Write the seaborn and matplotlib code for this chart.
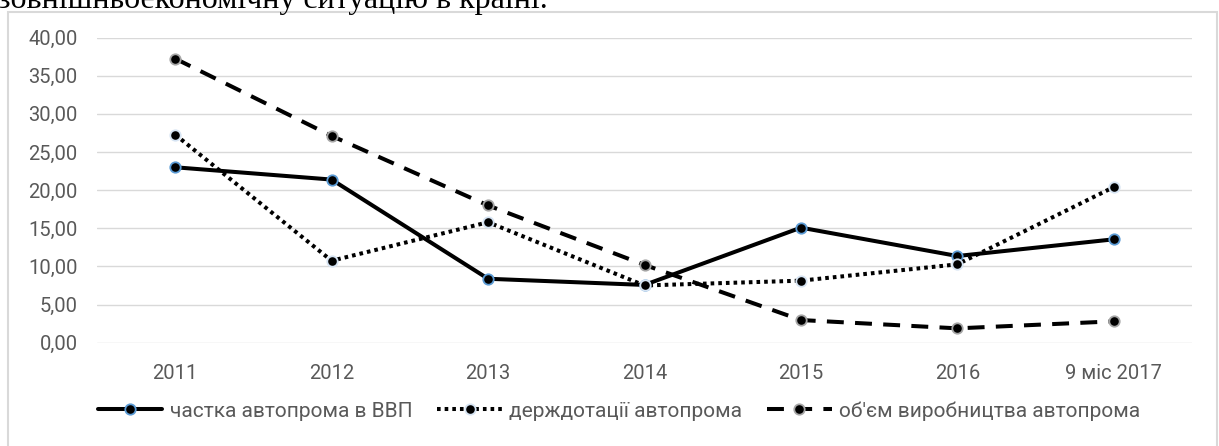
import matplotlib.pyplot as plt
import matplotlib.patches as patches
import numpy as np
import pandas as pd
import seaborn as sns

# data
years = ["2011", "2012", "2013", "2014", "2015", "2016", "9 міс 2017"]
share_gdp = [22.99, 21.38, 8.38, 7.57, 15.08, 11.36, 13.55]
state_subsidy = [27.27, 10.74, 15.79, 7.50, 8.13, 10.27, 20.40]
production = [37.23, 27.10, 17.99, 10.20, 2.97, 1.88, 2.80]
yticks = [0, 5, 10, 15, 20, 25, 30, 35, 40]
labels = ["частка автопрома в ВВП", "держдотації автопрома", "об'єм виробництва автопрома"]

sns.set_theme(style="white")
plt.rcParams["font.family"] = ["Roboto", "DejaVu Sans"]

df = pd.DataFrame({"pos": np.arange(len(years)), "share": share_gdp,
                   "subsidy": state_subsidy, "prod": production})

fig = plt.figure(figsize=(12.19, 4.46), dpi=100)
ax = fig.add_axes([97 / 1219, 1 - 342.7 / 446, (1192 - 97) / 1219, (342.7 - 37.5) / 446])

sns.lineplot(data=df, x="pos", y="share", ax=ax, color="black", lw=2.9,
             marker="o", markersize=7.5, markerfacecolor="black",
             markeredgecolor="#5b9bd5", markeredgewidth=1.3, label=labels[0])
sns.lineplot(data=df, x="pos", y="subsidy", ax=ax, color="black", lw=2.9,
             linestyle=(0, (0.9, 1.0)), marker="o", markersize=7.5,
             markerfacecolor="black", markeredgecolor="#d6e4f3",
             markeredgewidth=1.3, label=labels[1])
sns.lineplot(data=df, x="pos", y="prod", ax=ax, color="black", lw=2.9,
             linestyle=(0, (4.2, 2.8)), marker="o", markersize=7.5,
             markerfacecolor="black", markeredgecolor="#a6a6a6",
             markeredgewidth=1.3, label=labels[2])

ax.set_xlim(-0.5, len(years) - 0.5)
ax.set_ylim(0, 40)
ax.set_yticks(yticks)
ax.set_yticklabels([f"{v:.2f}".replace(".", ",") for v in yticks])
ax.set_xticks(df["pos"])
ax.set_xticklabels(years)
ax.set_xlabel("")
ax.set_ylabel("")
ax.yaxis.grid(True, color="#d9d9d9", lw=1.0)
ax.set_axisbelow(True)
for s in ax.spines.values():
    s.set_visible(False)
ax.tick_params(axis="both", length=0, labelsize=14.5, colors="#595959")
ax.tick_params(axis="y", pad=14)
ax.tick_params(axis="x", pad=15)

ax.legend_.remove()
handles, labs = ax.get_legend_handles_labels()
fig.legend(handles, labs, loc="center", bbox_to_anchor=(619 / 1219, 1 - 411 / 446),
           ncol=3, frameon=False, fontsize=15, handlelength=3.1,
           handletextpad=0.35, columnspacing=1.2, labelcolor="#595959")

# chart border like the embedded Excel chart
fig.add_artist(patches.Rectangle((8 / 1219, -0.05), (1217 - 8) / 1219, 1.05 - 12 / 446,
                                 transform=fig.transFigure, fill=False,
                                 edgecolor="#d9d9d9", lw=1.5))
# cut-off line of document text above the chart (cut in the reference too)
fig.text(-0.002, 1 - 8 / 446, "зовнішньоекономічну ситуацію в країні.",
         family="Liberation Serif", fontsize=23, va="baseline", color="black")

fig.savefig("out.png", dpi=100)
